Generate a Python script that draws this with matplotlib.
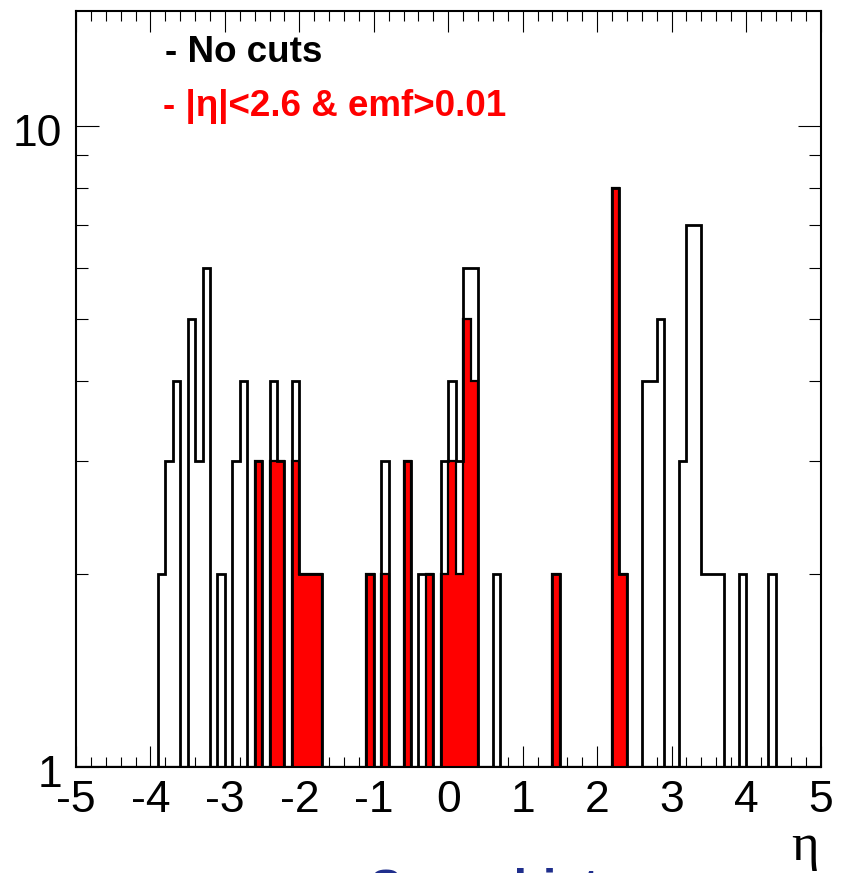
import numpy as np
import matplotlib
matplotlib.use("Agg")
import matplotlib.pyplot as plt
import matplotlib.transforms as mtransforms
from matplotlib.ticker import FixedLocator, NullFormatter

# Binning: 100 bins of 0.1 in eta
eta_edges = np.round(np.linspace(-5.0, 5.0, 101), 1)

# Jets with no selection (lower bin edge, entries)
nocut_eta = [-3.9, -3.8, -3.7, -3.5, -3.4, -3.3, -3.1, -2.9, -2.8, -2.6,
             -2.4, -2.3, -2.1, -2.0, -1.9, -1.8, -1.1, -0.9, -0.6, -0.4,
             -0.3, -0.1, 0.0, 0.1, 0.2, 0.3, 0.6, 1.4, 2.2, 2.3,
             2.6, 2.7, 2.8, 3.1, 3.2, 3.3, 3.4, 3.5, 3.6, 3.9, 4.3]
nocut_counts = [2, 3, 4, 5, 3, 6, 2, 3, 4, 3,
                4, 3, 4, 2, 2, 2, 2, 3, 3, 2,
                2, 3, 4, 3, 6, 6, 2, 2, 8, 2,
                4, 4, 5, 3, 7, 7, 2, 2, 2, 2, 2]

# Jets with |eta|<2.6 and emf>0.01
cut_eta = [-2.6, -2.4, -2.3, -2.1, -2.0, -1.9, -1.8, -1.1, -0.9, -0.6,
           -0.3, -0.1, 0.0, 0.1, 0.2, 0.3, 1.4, 2.2, 2.3]
cut_counts = [3, 3, 3, 3, 2, 2, 2, 2, 2, 3,
              2, 2, 3, 2, 5, 4, 2, 8, 2]

x_ticks = [-5, -4, -3, -2, -1, 0, 1, 2, 3, 4, 5]
x_tick_labels = ["-5", "-4", "-3", "-2", "-1", "0", "1", "2", "3", "4", "5"]
y_ticks = [1, 10]
y_tick_labels = ["1", "10"]

legend_nocut = "- No cuts"
legend_cut = "- |\u03b7|<2.6 & emf>0.01"

W, H = 846, 873
fig = plt.figure(figsize=(W / 100, H / 100), dpi=100)
fig.patch.set_facecolor("white")

ax_l, ax_r, ax_t, ax_b = 76, 820.5, 10.7, 767
ax = fig.add_axes([ax_l / W, (H - ax_b) / H, (ax_r - ax_l) / W, (ax_b - ax_t) / H])

ymin, ymax = 1.0, 15.1
h_nocut, _ = np.histogram(np.array(nocut_eta) + 0.05, bins=eta_edges, weights=nocut_counts)
h_cut, _ = np.histogram(np.array(cut_eta) + 0.05, bins=eta_edges, weights=cut_counts)

ax.set_yscale("log")
ax.stairs(np.clip(h_cut, ymin, None), eta_edges, baseline=ymin, fill=True,
          color="#ff0000", lw=0, zorder=2)
ax.stairs(np.clip(h_cut, ymin, None), eta_edges, baseline=ymin, fill=False,
          color="black", lw=1.6, zorder=3)
ax.stairs(np.clip(h_nocut, ymin, None), eta_edges, baseline=ymin, fill=False,
          color="black", lw=2.0, zorder=4)

ax.set_xlim(-5, 5)
ax.set_ylim(ymin, ymax)

ax.set_xticks(x_ticks, x_tick_labels)
ax.xaxis.set_minor_locator(FixedLocator(np.round(np.arange(-5, 5.01, 0.2), 1)))
ax.xaxis.set_minor_formatter(NullFormatter())
ax.set_yticks(y_ticks, y_tick_labels)
ax.yaxis.set_minor_locator(FixedLocator([2, 3, 4, 5, 6, 7, 8, 9]))
ax.yaxis.set_minor_formatter(NullFormatter())

ax.tick_params(axis="x", which="major", direction="in", top=True, bottom=True,
               length=15, width=0.8, pad=9, labelsize=32)
ax.tick_params(axis="x", which="minor", direction="in", top=True, bottom=True,
               length=7.5, width=0.8)
ax.tick_params(axis="y", which="major", direction="in", left=True, right=True,
               length=16.5, width=0.8, pad=10, labelsize=32)
ax.tick_params(axis="y", which="minor", direction="in", left=True, right=True,
               length=8.4, width=0.8)
for lab in ax.get_xticklabels() + ax.get_yticklabels():
    lab.set_fontfamily("Liberation Sans")
shift = mtransforms.ScaledTranslation(0, -4 / 100, fig.dpi_scale_trans)
for lab in ax.get_yticklabels():
    lab.set_transform(lab.get_transform() + shift)

for sp in ax.spines.values():
    sp.set_linewidth(1.5)
    sp.set_zorder(5)

# Legend entries
fig.text(165 / W, (H - 62) / H, legend_nocut, color="black", fontsize=26.5,
         fontweight="bold", family="Liberation Sans", ha="left", va="baseline")
fig.text(163 / W, (H - 116) / H, legend_cut, color="#ff0000", fontsize=26.5,
         fontweight="bold", family="Liberation Sans", ha="left", va="baseline")

# Axis title
fig.text(819 / W, (H - 860) / H, "\u03b7", color="black", fontsize=38,
         family="Liberation Serif", ha="right", va="baseline")

# Page heading below the frame
fig.text(370 / W, (H - 903) / H, "Some histograms", color="#1f2e8c", fontsize=34.5,
         fontweight="bold", family="Liberation Sans", ha="left", va="baseline")

fig.savefig("out.png", dpi=100, facecolor="white")
